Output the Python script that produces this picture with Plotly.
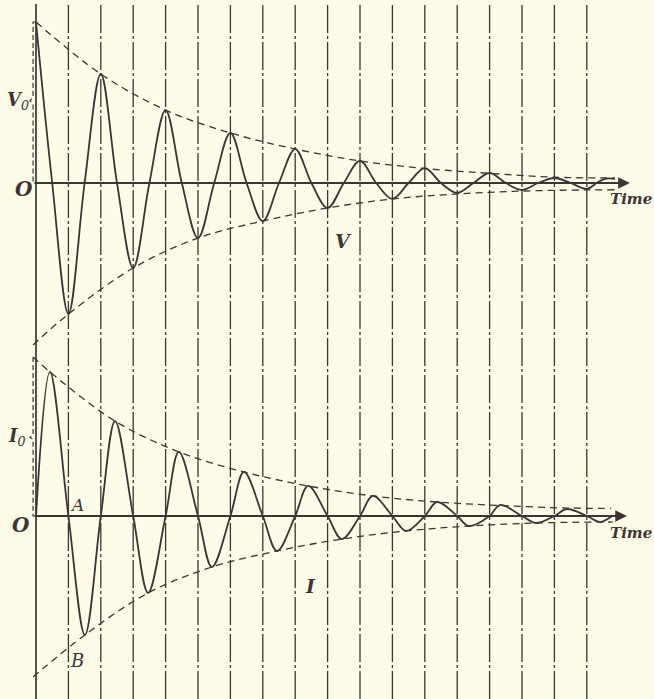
import plotly.graph_objects as go

# ---------------- data (time in half-periods, values in % of V0 / I0) ----------------
grid_t = [0, 1, 2, 3, 4, 5, 6, 7, 8, 9, 10, 11, 12, 13, 14, 15, 16, 17]

v_t = [0, 0.5, 1, 1.5, 2, 2.5, 3, 3.5, 4, 4.5, 5, 5.5, 6, 6.5, 7, 7.5, 8, 8.5,
       9, 9.5, 10, 10.5, 11, 11.5, 12, 12.5, 13, 13.5, 14, 14.5, 15, 15.5, 16,
       16.5, 17, 17.3, 17.56, 17.87]
v_val = [100, 0, -81.4, 0, 67.7, 0, -52.8, 0, 45.3, 0, -34.2, 0, 31.1, 0, -23.6, 0,
         21.1, 0, -15.5, 0, 13.7, 0, -9.9, 0, 9.3, 0, -6.2, 0, 6.2, 0, -4.3, 0, 3.1,
         0, -3.7, 0, 2.6, 2.6]

i_t = [0, 0.43, 1, 1.51, 2, 2.44, 3, 3.46, 4, 4.41, 5, 5.43, 6, 6.42, 7, 7.44, 8,
       8.40, 9, 9.44, 10, 10.40, 11, 11.42, 12, 12.38, 13, 13.36, 14, 14.32, 15,
       15.43, 16, 16.39, 17, 17.41, 17.78]
i_val = [0, 90.6, 0, -74.8, 0, 59.7, 0, -48.4, 0, 40.3, 0, -32.1, 0, 27.7, 0, -22.0,
         0, 18.9, 0, -14.5, 0, 12.6, 0, -9.4, 0, 8.8, 0, -6.3, 0, 6.9, 0, -4.4, 0,
         4.4, 0, -3.8, 0]

v_env_up_t = [0, 2, 4, 6, 8, 10, 12, 14, 16, 17.87]
v_env_up = [100, 67.7, 45.3, 31.1, 21.1, 13.7, 9.0, 6.0, 3.6, 3.1]
v_env_lo_t = [-0.09, 1, 3, 5, 7, 9, 11, 13, 15, 17, 17.9]
v_env_lo = [-100.6, -81.4, -52.8, -34.2, -23.6, -15.5, -9.9, -6.8, -5.0, -4.3, -4.2]

i_env_up_t = [-0.09, 0.43, 2.44, 4.41, 6.42, 8.40, 10.40, 12.38, 14.32, 16.39, 17.75]
i_env_up = [100, 90.6, 59.7, 40.3, 27.7, 18.9, 12.6, 8.8, 6.6, 5.0, 4.8]
i_env_lo_t = [-0.09, 1.51, 3.46, 5.43, 7.44, 9.44, 11.42, 13.36, 15.43, 17.41, 17.8]
i_env_lo = [-101.3, -74.8, -48.4, -32.1, -22.0, -14.5, -9.4, -6.3, -4.4, -3.8, -3.8]

# amplitude brackets (V0, I0)
v0_bracket_t = [0, -0.09, -0.09, -0.19, -0.09, -0.09, 0]
v0_bracket = [100, 100, 53, 51, 49, 0, 0]
i0_bracket_t = [-0.09, -0.09, -0.19, -0.09, -0.09, 0]
i0_bracket = [100, 51, 49.5, 48, 0, 0]

axis_start_t = -0.09
v_arrow_t = 18.33
i_arrow_t = 18.24

BG = "#fcfce8"
INK = "#3e3434"
FONT = "DejaVu Serif"

W, H = 654, 699
PX_T = 32.4          # px per half-period
X0 = 36              # x of t = 0
VY0, VS = 183, 1.61  # y of V axis, px per %
IY0, IS = 516, 1.59  # y of I axis, px per %
SPLIT_Y = 350        # y where the two panels meet

fig = go.Figure()


def line(x, y, yaxis, width=1.6, dash="solid", shape="spline"):
    fig.add_trace(go.Scatter(
        x=x, y=y, yaxis=yaxis, xaxis="x", mode="lines",
        line=dict(color=INK, width=width, dash=dash, shape=shape),
        hoverinfo="skip", showlegend=False))


# curves
line(v_t, v_val, "y", width=1.8)
line(i_t, i_val, "y2", width=1.8)
# envelopes
for tt, vv in [(v_env_up_t, v_env_up), (v_env_lo_t, v_env_lo)]:
    line(tt, vv, "y", width=1.3, dash="7px,5px")
for tt, vv in [(i_env_up_t, i_env_up), (i_env_lo_t, i_env_lo)]:
    line(tt, vv, "y2", width=1.3, dash="7px,5px")
# brackets
line(v0_bracket_t, v0_bracket, "y", width=1.2, dash="5px,3px", shape="linear")
line(i0_bracket_t, i0_bracket, "y2", width=1.2, dash="5px,3px", shape="linear")

# vertical reference lines
shapes = []
for k, t in enumerate(grid_t):
    shapes.append(dict(
        type="line", xref="x", yref="paper", x0=t, x1=t, y0=0, y1=1 - 4 / H,
        line=dict(color=INK, width=1.7 if k == 0 else 1.3,
                  dash="solid" if k == 0 else "28px,3px,3px,3px"),
        layer="below"))

annotations = []
# time axes with arrows
for yref, tip in [("y", v_arrow_t), ("y2", i_arrow_t)]:
    annotations.append(dict(
        x=tip, y=0, ax=axis_start_t, ay=0, xref="x", yref=yref,
        axref="x", ayref=yref, text="", showarrow=True,
        arrowhead=2, arrowsize=1.3, arrowwidth=1.8, arrowcolor=INK))


def label(text, x, y, yref, size=19, xanchor="center"):
    annotations.append(dict(
        x=x, y=y, xref="x", yref=yref, text=text, showarrow=False,
        font=dict(family=FONT, size=size, color=INK),
        xanchor=xanchor, yanchor="middle"))


t_right = (654 - X0) / PX_T
label("<b><i>V</i></b><sub><i>0</i></sub>", -0.55, 51, "y", 18)
label("<b><i>O</i></b>", -0.37, -4, "y", 20)
label("<b><i>Time</i></b>", t_right, -10.2, "y", 15, xanchor="right")
label("<b><i>V</i></b>", 9.48, -36, "y", 19)

label("<b><i>I</i></b><sub><i>0</i></sub>", -0.6, 49.5, "y2", 18)
label("<b><i>O</i></b>", -0.46, -5.7, "y2", 20)
label("<b><i>Time</i></b>", t_right, -10.7, "y2", 15, xanchor="right")
label("<i>A</i>", 1.27, 7, "y2", 17)
label("<i>B</i>", 1.27, -91, "y2", 18)
label("<b><i>I</i></b>", 8.48, -44, "y2", 19)

split = 1 - SPLIT_Y / H
fig.update_layout(
    width=W, height=H,
    margin=dict(l=0, r=0, t=0, b=0),
    paper_bgcolor=BG, plot_bgcolor=BG,
    shapes=shapes, annotations=annotations,
    xaxis=dict(range=[-X0 / PX_T, (W - X0) / PX_T], visible=False, anchor="y"),
    yaxis=dict(range=[(VY0 - SPLIT_Y) / VS, VY0 / VS], domain=[split, 1],
               visible=False),
    yaxis2=dict(range=[(IY0 - H) / IS, (IY0 - SPLIT_Y) / IS], domain=[0, split],
                visible=False, anchor="x"),
    showlegend=False,
)

# remove the browser's default 8px page margin so the figure fills the window
page_fix = ("document.body.style.margin='0px';"
            "document.body.style.background='" + BG + "';"
            "document.documentElement.style.overflow='hidden';")
fig.write_html("out.html", post_script=page_fix,
               config={"displayModeBar": False, "staticPlot": True})
